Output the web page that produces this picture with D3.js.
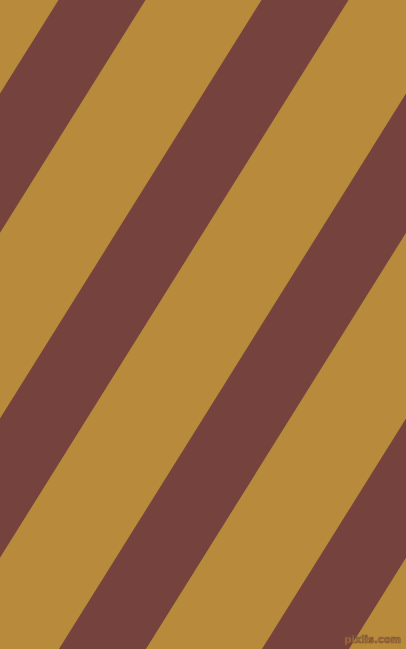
<!DOCTYPE html>
<html>
<head>
<meta charset="utf-8">
<script src="https://cdn.jsdelivr.net/npm/d3@7"></script>
<style>
  html, body { margin: 0; padding: 0; background: #b88a3b; overflow: hidden; }
  svg { display: block; }
</style>
</head>
<body>
<div id="chart"></div>
<script>
// Diagonal stripes - two colours, 58 degree angle

const width = 406;
const height = 649;

// stripe data
const stripeIndex = [0, 1, 2, 3];
const stripeColors = ["#76423d"];
const backgroundColor = "#b88a3b";
const watermark = ["pixlis.com"];

const svg = d3.select("#chart")
    .append("svg")
    .attr("width", width)
    .attr("height", height)
    .attr("viewBox", `0 0 ${width} ${height}`);

svg.append("rect")
    .attr("width", width)
    .attr("height", height)
    .attr("fill", backgroundColor);

// index -> offset of the stripe's left edge along the top edge
const xScale = d3.scaleLinear()
    .domain([0, 1])
    .range([58.5, 261.5]);

const stripeWidth = 87;
const slant = Math.tan(32 * Math.PI / 180); // dx per dy

const stripePath = k => {
    const u0 = xScale(k);
    const u1 = u0 + stripeWidth;
    const shift = slant * height;
    return d3.line()([
        [u0, 0],
        [u1, 0],
        [u1 - shift, height],
        [u0 - shift, height]
    ]) + "Z";
};

svg.append("g")
    .selectAll("path")
    .data(stripeIndex)
    .join("path")
    .attr("d", stripePath)
    .attr("fill", (d, i) => stripeColors[i % stripeColors.length]);

svg.append("text")
    .attr("x", 401)
    .attr("y", 643)
    .attr("text-anchor", "end")
    .attr("font-family", "DejaVu Sans, sans-serif")
    .attr("font-size", 10)
    .attr("font-weight", "bold")
    .attr("fill", "#a5793a")
    .attr("stroke", "#7a4c36")
    .attr("stroke-width", 0.6)
    .text(watermark[0]);
</script>
</body>
</html>
